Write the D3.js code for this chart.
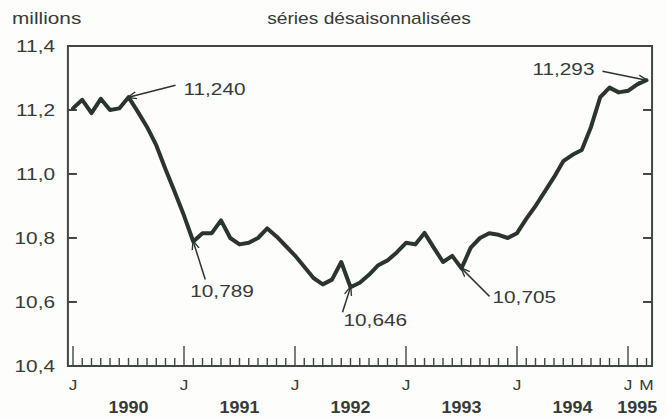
<!DOCTYPE html>
<html>
<head>
<meta charset="utf-8">
<script src="https://cdn.jsdelivr.net/npm/d3@7"></script>
<style>
  body { margin: 0; background: #fdfdfc; }
  svg { display: block; }
  text { font-family: "Liberation Sans", Arial, Helvetica, sans-serif; fill: #363b37; }
</style>
</head>
<body>
<svg id="chart" width="667" height="419"></svg>
<script>
// monthly employment, millions, seasonally adjusted (Jan 1990 - Mar 1995)
const emp1990 = [11.205, 11.232, 11.190, 11.235, 11.200, 11.205, 11.240, 11.195, 11.147, 11.090, 11.015, 10.944];
const emp1991 = [10.870, 10.789, 10.815, 10.815, 10.855, 10.800, 10.780, 10.785, 10.800, 10.830, 10.805, 10.775];
const emp1992 = [10.745, 10.710, 10.675, 10.655, 10.670, 10.725, 10.646, 10.660, 10.685, 10.715, 10.730, 10.755];
const emp1993 = [10.785, 10.780, 10.816, 10.770, 10.725, 10.744, 10.705, 10.770, 10.800, 10.815, 10.810, 10.800];
const emp1994 = [10.815, 10.860, 10.900, 10.945, 10.990, 11.040, 11.060, 11.075, 11.147, 11.240, 11.270, 11.255];
const emp1995 = [11.260, 11.280, 11.293];

const years = ["1990", "1991", "1992", "1993", "1994", "1995"];
const yTicks = [10.4, 10.6, 10.8, 11.0, 11.2, 11.4];
const monthLabels = [{ i: 0, t: "J" }, { i: 12, t: "J" }, { i: 24, t: "J" }, { i: 36, t: "J" }, { i: 48, t: "J" }, { i: 60, t: "J" }, { i: 62, t: "M" }];

// labelled points: month index + label
const callouts = [
  { i: 6, label: "11,240" },
  { i: 13, label: "10,789" },
  { i: 30, label: "10,646" },
  { i: 42, label: "10,705" },
  { i: 62, label: "11,293" }
];

const series = [].concat(emp1990, emp1991, emp1992, emp1993, emp1994, emp1995)
  .map((v, i) => ({ i: i, v: v }));

const svg = d3.select("#chart");
const ink = "#2a362c",
frameInk = "#3e4a41",
sx = 1.3; // the original lettering is wide

let x = d3.scaleLinear().domain([0, 62]).range([73, 646.5]);
let y = d3.scaleLinear().domain([10.4, 11.4]).range([366, 46]);

const plotLeft = x(-0.55), plotRight = x(62.6), plotTop = y(11.4), plotBottom = y(10.4);

// stretched text helper
function wideText(g, txt, px, py, anchor, size, scale, weight) {
  return g.append("text")
    .attr("transform", `translate(${px},${py}) scale(${scale},1)`)
    .attr("text-anchor", anchor)
    .attr("font-size", size)
    .attr("font-weight", weight || "normal")
    .text(txt);
}

// frame
svg.append("rect")
  .attr("x", plotLeft).attr("y", plotTop)
  .attr("width", plotRight - plotLeft).attr("height", plotBottom - plotTop)
  .attr("fill", "none")
  .attr("stroke", frameInk)
  .attr("stroke-width", 2);

// y ticks inside, both sides
let yt = svg.append("g");
yTicks.slice(1, -1).forEach(t => {
  yt.append("line").attr("x1", plotLeft).attr("x2", plotLeft + 9).attr("y1", y(t)).attr("y2", y(t))
    .attr("stroke", frameInk).attr("stroke-width", 2);
  yt.append("line").attr("x1", plotRight - 9).attr("x2", plotRight).attr("y1", y(t)).attr("y2", y(t))
    .attr("stroke", frameInk).attr("stroke-width", 2);
});
yTicks.forEach(t => {
  wideText(yt, d3.format(".1f")(t).replace(".", ","), 55, y(t) + 6, "end", 16, sx);
});

// month ticks on the bottom, januaries taller
svg.append("g")
  .selectAll("line")
  .data(d3.range(0, 63))
  .join("line")
  .attr("x1", d => x(d)).attr("x2", d => x(d))
  .attr("y1", plotBottom)
  .attr("y2", d => d % 12 === 0 ? plotBottom - 20 : plotBottom - 8)
  .attr("stroke", frameInk)
  .attr("stroke-width", 1.4);

let xl = svg.append("g");
monthLabels.forEach(m => wideText(xl, m.t, x(m.i), 390, "middle", 15, 1.15));
years.forEach((yr, k) => {
  let cx = k < 5 ? x(k * 12 + 6) : x(61);
  wideText(xl, yr, cx, 413, "middle", 16, 1.12, "bold");
});

// titles
wideText(svg, "millions", 12, 24, "start", 16, sx);
wideText(svg, "séries désaisonnalisées", 369, 24, "middle", 16, 1.2);

// the line
let line = d3.line()
  .x(d => x(d.i))
  .y(d => y(d.v))
  .curve(d3.curveLinear);

svg.append("path")
  .datum(series)
  .attr("d", line)
  .attr("fill", "none")
  .attr("stroke", ink)
  .attr("stroke-width", 4)
  .attr("stroke-linejoin", "round")
  .attr("stroke-linecap", "round");

// callouts: leader end point and text placement relative to the data point
const place = {
  6:  { dx: 47, dy: -12, tx: 55, ty: -2, anchor: "start" },
  13: { dx: 12, dy: 38, tx: -3, ty: 55, anchor: "start" },
  30: { dx: -8, dy: 25, tx: -7, ty: 39, anchor: "start" },
  42: { dx: 28, dy: 28, tx: 31, ty: 35, anchor: "start" },
  62: { dx: -44, dy: -9, tx: -52, ty: -5, anchor: "end" }
};

svg.append("defs").append("marker")
  .attr("id", "tip")
  .attr("viewBox", "0 0 10 10")
  .attr("refX", 9).attr("refY", 5)
  .attr("markerWidth", 6).attr("markerHeight", 6)
  .attr("orient", "auto")
  .append("path")
  .attr("d", "M0,1 L10,5 L0,9")
  .attr("fill", "none")
  .attr("stroke", ink)
  .attr("stroke-width", 1.5);

let cg = svg.append("g");
callouts.forEach(c => {
  let p = place[c.i], px = x(c.i), py = y(series[c.i].v);
  cg.append("line")
    .attr("x1", px + p.dx).attr("y1", py + p.dy)
    .attr("x2", px).attr("y2", py)
    .attr("stroke", ink)
    .attr("stroke-width", 1.5)
    .attr("marker-end", "url(#tip)");
  wideText(cg, c.label, px + p.tx, py + p.ty, p.anchor, 16, sx);
});
</script>
</body>
</html>
